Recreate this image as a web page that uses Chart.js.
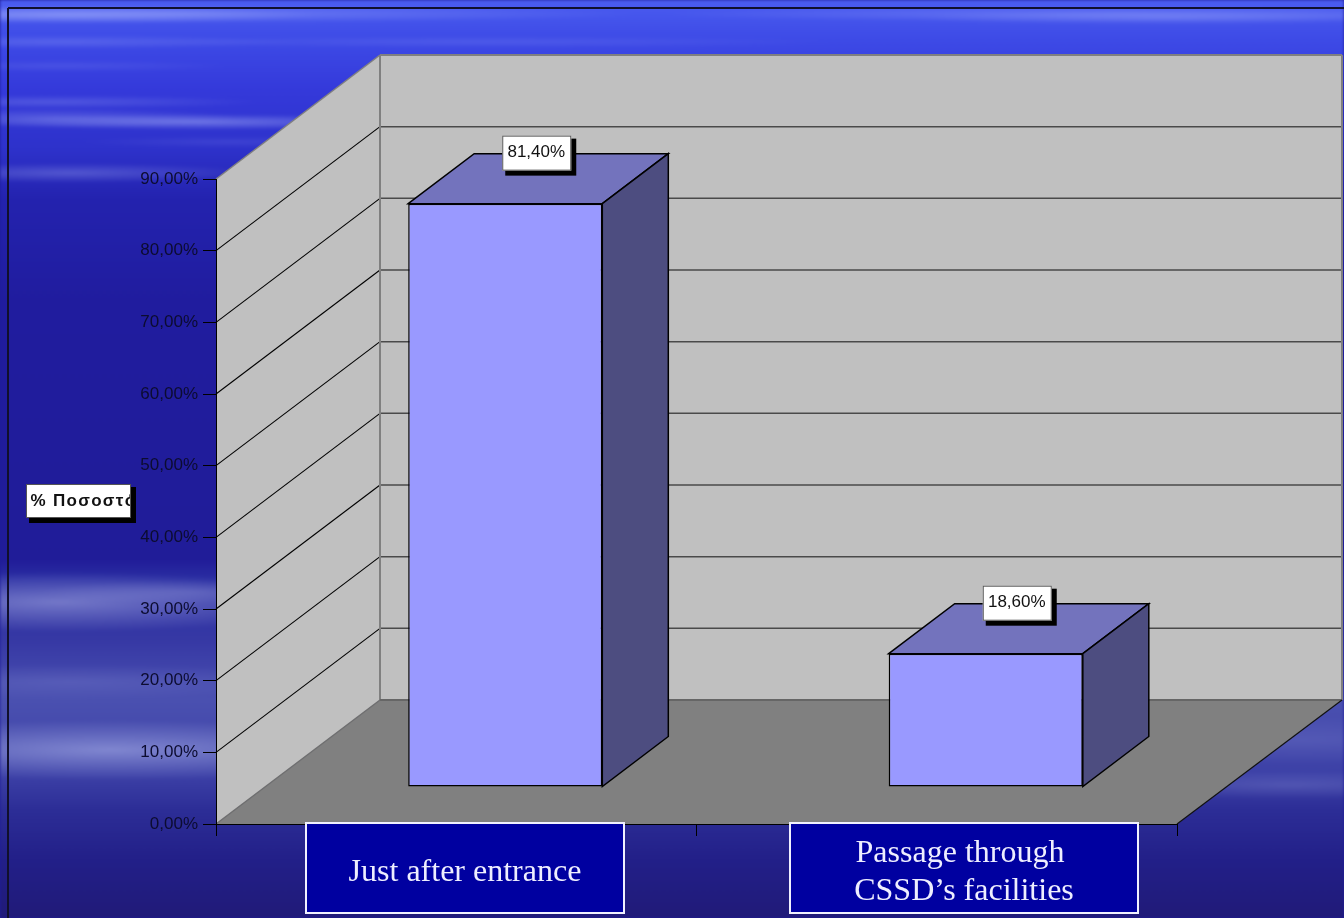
<!DOCTYPE html>
<html>
<head>
<meta charset="utf-8">
<title>Chart</title>
<style>
  html, body { margin: 0; padding: 0; overflow: hidden; }
  #page { position: relative; width: 1344px; height: 918px; overflow: hidden; background: #201c98; }
  #bg {
    position: absolute; left: 0; top: 0; width: 1344px; height: 918px;
    filter: blur(1.5px);
    background:
      radial-gradient(ellipse 460px 9px at 180px 14px, rgba(190,200,255,.3), transparent),
      radial-gradient(ellipse 260px 9px at 60px 15px, rgba(190,200,255,.35), transparent),
      radial-gradient(ellipse 460px 8px at 1120px 14px, rgba(180,190,255,.3), transparent),
      radial-gradient(ellipse 260px 7px at 1170px 18px, rgba(180,190,255,.22), transparent),
      radial-gradient(ellipse 360px 6px at 480px 42px, rgba(180,190,255,.14), transparent),
      radial-gradient(ellipse 240px 7px at 60px 42px, rgba(180,190,255,.22), transparent),
      radial-gradient(ellipse 170px 6px at 60px 66px, rgba(170,180,250,.14), transparent),
      radial-gradient(ellipse 210px 7px at 50px 102px, rgba(170,180,250,.25), transparent),
      radial-gradient(ellipse 220px 8px at 200px 122px, rgba(190,200,255,.42), transparent),
      radial-gradient(ellipse 190px 10px at 50px 118px, rgba(190,200,255,.26), transparent),
      radial-gradient(ellipse 150px 6px at 230px 142px, rgba(170,180,250,.12), transparent),
      radial-gradient(ellipse 190px 10px at 70px 173px, rgba(190,200,255,.28), transparent),
      radial-gradient(ellipse 280px 30px at 60px 602px, rgba(190,195,240,.48), transparent),
      radial-gradient(ellipse 150px 12px at 190px 592px, rgba(190,195,240,.2), transparent),
      radial-gradient(ellipse 260px 18px at 70px 682px, rgba(170,178,235,.18), transparent),
      radial-gradient(ellipse 320px 30px at 110px 750px, rgba(190,198,245,.5), transparent),
      radial-gradient(ellipse 240px 24px at 1300px 740px, rgba(170,178,235,.16), transparent),
      radial-gradient(ellipse 200px 14px at 1290px 785px, rgba(170,178,235,.22), transparent),
      linear-gradient(180deg, #4a5cf0 0, #3d4ae6 40px, #3439da 90px, #2d31ca 150px, #2322ae 200px, #201c9e 300px, #201c98 560px, #2a2ea2 580px, #3638a4 640px, #4a50b0 700px, #3c40a6 775px, #2c2d96 810px, #221f88 860px, #201a78 918px);
  }
  canvas { position: absolute; left: 0; top: 0; }
</style>
</head>
<body>
<div id="page"><div id="bg"></div><canvas id="chart" width="1344" height="918"></canvas></div>
<script src="https://cdn.jsdelivr.net/npm/chart.js@4/dist/chart.umd.min.js"></script>
<script>
  // trailing space on the first line is in the original box, it pushes the line left
  const categories = [["Just after entrance"], ["Passage through ", "CSSD’s facilities"]];
  const percentages = [81.4, 18.6];
  const yMax = 90;
  const yStep = 10;
  const yAxisTitle = "% Ποσοστό";

  // projection of the fake 3d box
  const WALL_DX = 164, WALL_DY = 124;
  const BAR_SHIFT_X = 49, BAR_SHIFT_Y = 37;
  const BAR_DX = 66, BAR_DY = 50;
  const catBoxes = [
    { x: 306, w: 318, base: [881] },
    { x: 790, w: 348, base: [862, 900] },
  ];

  const pct = (v) => v.toFixed(2).replace(".", ",") + "%";

  function poly(ctx, pts, fill, stroke, lw) {
    ctx.beginPath();
    pts.forEach((p, i) => (i ? ctx.lineTo(p[0], p[1]) : ctx.moveTo(p[0], p[1])));
    ctx.closePath();
    if (fill) {
      ctx.fillStyle = fill;
      ctx.fill();
    }
    if (stroke) {
      ctx.strokeStyle = stroke;
      ctx.lineWidth = lw || 1;
      ctx.stroke();
    }
  }
  function line(ctx, x1, y1, x2, y2, color, lw) {
    ctx.beginPath();
    ctx.moveTo(x1, y1);
    ctx.lineTo(x2, y2);
    ctx.strokeStyle = color;
    ctx.lineWidth = lw;
    ctx.stroke();
  }
  function labelBox(ctx, x, y, w, h) {
    ctx.fillStyle = "#000";
    ctx.fillRect(x + 3, y + 3, w + 2, h + 2);
    ctx.fillStyle = "#fff";
    ctx.fillRect(x, y, w, h);
    ctx.strokeStyle = "#555";
    ctx.lineWidth = 1;
    ctx.strokeRect(x + 0.5, y + 0.5, w - 1, h - 1);
  }

  const box3d = {
    id: "box3d",
    beforeDraw(chart) {
      const { ctx, chartArea: a, scales } = chart;
      ctx.save();
      // frame of the slide
      line(ctx, 8, 8, 8, 918, "#10102c", 2);
      line(ctx, 8, 8, 1344, 8, "#10102c", 2);
      const bx = a.left + WALL_DX, by = a.bottom - WALL_DY, ty = a.top - WALL_DY;
      const rx = a.right + WALL_DX + 1;
      poly(ctx, [[bx, ty], [rx, ty], [rx, by], [bx, by]], "#c0c0c0");
      poly(ctx, [[a.left, a.top], [bx, ty], [bx, by], [a.left, a.bottom]], "#c0c0c0");
      poly(ctx, [[a.left, a.bottom], [bx, by], [rx, by], [a.right, a.bottom]], "#808080");
      for (let v = yStep; v < yMax; v += yStep) {
        const y = scales.y.getPixelForValue(v);
        line(ctx, a.left, y, bx, y - WALL_DY, "#000", 1.1);
        line(ctx, bx, y - WALL_DY, rx, y - WALL_DY, "#4a4a4a", 1.5);
      }
      line(ctx, a.left, a.top, bx, ty, "#808080", 1.5);
      line(ctx, bx, ty, rx, ty, "#808080", 2);
      line(ctx, bx, ty, bx, by, "#808080", 2);
      line(ctx, rx, ty, rx, by, "#808080", 2);
      line(ctx, bx, by, rx, by, "#666", 2);
      line(ctx, a.left, a.bottom, bx, by, "#707070", 1.5);
      line(ctx, a.right, a.bottom, rx, by, "#111", 1.2);
      ctx.restore();
    },
    beforeDatasetsDraw(chart) {
      chart.ctx.save();
      chart.ctx.translate(BAR_SHIFT_X, -BAR_SHIFT_Y);
    },
    afterDatasetsDraw(chart) {
      const { ctx } = chart;
      chart.getDatasetMeta(0).data.forEach((b) => {
        const l = b.x - b.width / 2, r = b.x + b.width / 2;
        poly(ctx, [[l, b.y], [l + BAR_DX, b.y - BAR_DY], [r + BAR_DX, b.y - BAR_DY], [r, b.y]], "#7373bd", "#000", 1.5);
        poly(ctx, [[r, b.y], [r + BAR_DX, b.y - BAR_DY], [r + BAR_DX, b.base - BAR_DY], [r, b.base]], "#4d4d80", "#000", 1.5);
      });
      ctx.restore();
    },
    afterDraw(chart) {
      const { ctx } = chart;
      ctx.save();
      // value labels
      ctx.textAlign = "center";
      ctx.textBaseline = "middle";
      ctx.font = '17px "Liberation Sans"';
      chart.getDatasetMeta(0).data.forEach((b, i) => {
        const cx = b.x + BAR_SHIFT_X + BAR_DX / 2 - 2;
        const top = b.y - BAR_SHIFT_Y - 68;
        labelBox(ctx, cx - 34, top, 69, 35);
        ctx.fillStyle = "#111";
        ctx.fillText(pct(percentages[i]), cx, top + 17);
      });
      // axis title, the box cuts the last letter like the original
      labelBox(ctx, 26, 484, 105, 34);
      ctx.save();
      ctx.beginPath();
      ctx.rect(27, 485, 103, 32);
      ctx.clip();
      ctx.textAlign = "left";
      ctx.font = 'bold 17px "Liberation Sans"';
      ctx.letterSpacing = "1.3px";
      ctx.fillStyle = "#111";
      ctx.fillText(yAxisTitle, 30.5, 501);
      ctx.restore();
      // category boxes
      ctx.font = '32px "Liberation Serif"';
      ctx.textAlign = "center";
      ctx.textBaseline = "alphabetic";
      catBoxes.forEach((c, i) => {
        ctx.fillStyle = "#0000a0";
        ctx.fillRect(c.x, 823, c.w, 90);
        ctx.strokeStyle = "#f0f0ff";
        ctx.lineWidth = 2;
        ctx.strokeRect(c.x, 823, c.w, 90);
        ctx.fillStyle = "#eeeeff";
        categories[i].forEach((t, k) => ctx.fillText(t, c.x + c.w / 2, c.base[k]));
      });
      ctx.restore();
    },
  };

  new Chart(document.getElementById("chart"), {
    type: "bar",
    data: {
      labels: categories,
      datasets: [
        {
          data: percentages,
          backgroundColor: "#9999ff",
          borderColor: "#000",
          borderWidth: 1.5,
          borderSkipped: false,
          barPercentage: 0.404,
          categoryPercentage: 1,
        },
      ],
    },
    options: {
      responsive: false,
      animation: false,
      layout: { padding: { top: 179, right: 167, left: 0, bottom: 0 } },
      plugins: { legend: { display: false }, tooltip: { enabled: false } },
      scales: {
        x: {
          afterFit: (s) => (s.height = 94),
          grid: { drawOnChartArea: false, color: "#000", tickLength: 12 },
          border: { color: "#000", width: 1 },
          ticks: { display: false },
        },
        y: {
          min: 0,
          max: yMax,
          afterFit: (s) => (s.width = 216),
          grid: { drawOnChartArea: false, color: "#000", tickLength: 13 },
          border: { color: "#000", width: 1 },
          ticks: {
            stepSize: yStep,
            padding: 5,
            color: "#0c0c30",
            font: { family: "Liberation Sans", size: 17 },
            callback: (v) => pct(v),
          },
        },
      },
    },
    plugins: [box3d],
  });
</script>
</body>
</html>
